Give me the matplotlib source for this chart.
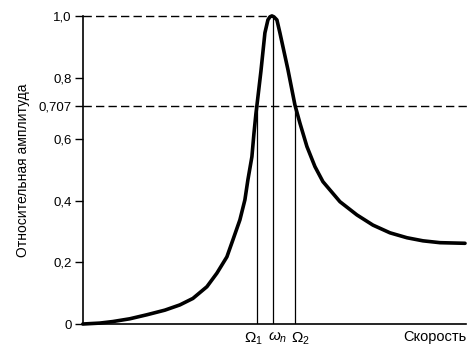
import matplotlib
matplotlib.use("Agg")
import matplotlib.pyplot as plt

plt.rcParams['font.family'] = ['Liberation Sans', 'DejaVu Sans']
plt.rcParams['mathtext.fontset'] = 'custom'
plt.rcParams['mathtext.rm'] = 'Liberation Sans'
plt.rcParams['mathtext.it'] = 'Liberation Sans:italic'

# curve (speed in arbitrary units, relative amplitude)
speed = [0, 17, 30, 47, 64, 82, 97, 110, 124, 134, 144, 150, 157, 162, 165,
         169, 171, 173, 174, 178, 182, 185, 187, 189, 191, 194, 197, 205,
         212, 217, 224, 232, 240, 257, 274, 290, 307, 324, 340, 357, 382]
amplitude = [0, 0.003, 0.008, 0.017, 0.03, 0.045, 0.062, 0.083, 0.121, 0.165,
             0.218, 0.273, 0.338, 0.403, 0.468, 0.543, 0.617, 0.682, 0.709,
             0.82, 0.945, 0.987, 0.997, 1.0, 0.997, 0.987, 0.945, 0.826,
             0.711, 0.652, 0.576, 0.511, 0.462, 0.397, 0.354, 0.321, 0.296,
             0.280, 0.270, 0.264, 0.262]

omega1 = 174
omega_n = 190
omega2 = 212
half_power = 0.707

yticks = [0, 0.2, 0.4, 0.6, 0.707, 0.8, 1.0]
yticklabels = ['0', '0,2', '0,4', '0,6', '0,707', '0,8', '1,0']

fig = plt.figure(figsize=(4.76, 3.57), dpi=100)
ax = fig.add_axes([0.174, 0.0924, 0.805, 0.863])

ax.plot(speed, amplitude, color='black', lw=2.6, solid_capstyle='round',
        solid_joinstyle='round', clip_on=False, zorder=3)

# reference lines
ax.plot([0, omega_n], [1.0, 1.0], color='black', lw=1, ls=(0, (6, 3)), clip_on=False)
ax.plot([0, 385], [half_power, half_power], color='black', lw=1, ls=(0, (6, 3)), clip_on=False)
ax.plot([omega1, omega1], [0, half_power], color='black', lw=0.9)
ax.plot([omega_n, omega_n], [0, 1.0], color='black', lw=0.9)
ax.plot([omega2, omega2], [0, half_power], color='black', lw=0.9)

ax.set_xlim(0, 383)
ax.set_ylim(0, 1.0)
ax.set_yticks(yticks)
ax.set_yticklabels(yticklabels)
ax.set_xticks([])
ax.tick_params(axis='y', direction='out', length=6, width=1, labelsize=9.5, pad=2)
ax.spines['top'].set_visible(False)
ax.spines['right'].set_visible(False)
ax.spines['left'].set_linewidth(1.2)
ax.spines['bottom'].set_linewidth(1.2)

ax.set_ylabel('Относительная амплитуда', fontsize=10, labelpad=6)

ax.text(omega1 - 3, -0.02, r'$\Omega_1$', ha='center', va='top', fontsize=11)
ax.text(omega_n + 5, -0.02, r'$\omega_n$', ha='center', va='top', fontsize=11)
ax.text(omega2 + 6, -0.02, r'$\Omega_2$', ha='center', va='top', fontsize=11)
ax.text(383, -0.02, 'Скорость', ha='right', va='top', fontsize=10.5)

fig.savefig('out.png', dpi=100)
